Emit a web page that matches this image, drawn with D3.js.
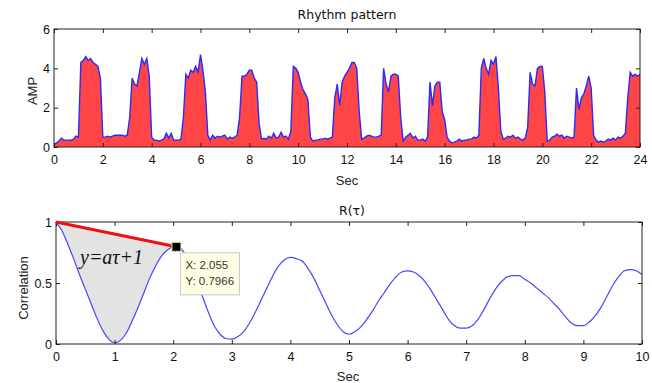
<!DOCTYPE html>
<html>
<head>
<meta charset="utf-8">
<script src="https://cdn.jsdelivr.net/npm/d3@7"></script>
<style>
  body { margin: 0; background: #fff; }
  svg { display: block; }
  .tick text { font-family: "Liberation Sans", Arial, sans-serif; font-size: 12.5px; fill: #111; }
  .tick line { stroke: #222; }
  .domain { display: none; }
</style>
</head>
<body>
<svg id="chart" width="652" height="383"></svg>
<script>
// rhythm pattern, one value every 0.1 s from 0 to 24 s
const ampStep = 0.1;
const ampValues = [
  0.15,0.2,0.3,0.45,0.35,0.35,0.35,0.35,0.4,0.55,
  0.5,4.3,4.4,4.6,4.4,4.5,4.3,4.2,4.1,3.5,
  0.5,0.5,0.55,0.5,0.55,0.6,0.6,0.6,0.6,0.55,
  0.6,1.5,3.5,3.2,3.1,3.8,4.5,4.2,4.5,3.6,
  0.5,0.35,0.35,0.3,0.35,0.4,0.7,0.45,0.7,0.35,
  0.35,0.35,0.4,1.5,3.7,3.5,3.9,3.8,4.1,3.8,
  4.7,3.9,2.8,0.6,0.35,0.6,0.45,0.55,0.5,0.55,
  0.6,0.4,0.5,0.45,0.5,0.6,1.5,3.6,3.6,3.7,
  3.9,3.9,3.5,3.3,1.2,0.4,0.45,0.4,0.55,0.45,
  0.7,0.45,0.5,0.75,0.5,0.55,0.4,0.8,4.1,4.0,
  3.8,3.3,2.9,2.7,2.4,0.5,0.3,0.35,0.35,0.4,
  0.4,0.45,0.4,0.45,0.5,2.5,3.2,2.1,3.3,3.6,
  3.8,4.0,4.3,4.3,4.0,1.8,0.4,0.45,0.55,0.6,
  0.55,0.5,0.5,0.55,0.6,4.0,3.2,2.8,3.6,3.7,
  3.7,3.6,1.5,0.3,0.5,0.6,0.7,0.45,0.55,0.35,
  0.35,0.4,0.3,0.5,3.3,2.1,3.1,3.3,3.3,1.8,
  1.4,0.5,0.3,0.2,0.25,0.3,0.4,0.3,0.35,0.35,
  0.4,0.4,0.5,0.45,0.6,4.0,4.5,4.0,3.7,4.4,
  4.2,4.6,3.0,0.8,0.4,0.45,0.55,0.5,0.6,0.45,
  0.5,0.4,0.35,0.45,1.0,3.8,3.2,3.1,4.0,4.1,
  4.1,2.8,0.3,0.35,0.5,0.55,0.65,0.55,0.6,0.45,
  0.55,0.5,0.45,0.5,3.0,1.9,2.5,2.7,3.1,3.6,
  3.0,0.6,0.35,0.25,0.3,0.25,0.3,0.4,0.35,0.45,
  0.35,0.5,0.45,0.55,0.7,2.5,3.8,3.6,3.7,3.6,
  3.7
];
const ampXTicks = [0,2,4,6,8,10,12,14,16,18,20,22,24];
const ampYTicks = [0,2,4,6];

// autocorrelation R(tau), one value every 0.1 s from 0 to 10 s
const corrStep = 0.1;
const corrValues = [
  1.0,0.93,0.82,0.7,0.57,0.45,0.33,0.21,0.11,0.04,
  0.01,0.03,0.09,0.19,0.3,0.42,0.54,0.64,0.72,0.77,
  0.795,0.79,0.74,0.64,0.52,0.39,0.26,0.15,0.08,0.045,
  0.04,0.06,0.1,0.17,0.26,0.36,0.46,0.56,0.64,0.69,
  0.71,0.70,0.68,0.62,0.54,0.44,0.34,0.24,0.16,0.1,
  0.08,0.1,0.14,0.2,0.27,0.35,0.42,0.49,0.55,0.59,
  0.6,0.59,0.56,0.51,0.44,0.36,0.28,0.2,0.15,0.13,
  0.13,0.15,0.2,0.28,0.37,0.45,0.51,0.55,0.56,0.56,
  0.53,0.5,0.46,0.42,0.38,0.33,0.28,0.22,0.17,0.15,
  0.15,0.18,0.23,0.3,0.39,0.48,0.55,0.6,0.61,0.6,
  0.57
];
const corrXTicks = [0,1,2,3,4,5,6,7,8,9,10];
const corrYTicks = [0,0.5,1];
const tipX = 2.055;
const tipY = 0.7966;

const svg = d3.select("#chart");
const labelFont = '"Liberation Sans", Arial, sans-serif';
const titleFont = '"DejaVu Sans", Verdana, sans-serif';

function frame(g, x, y, xTicks, yTicks, fmtY) {
  const [x0, x1] = x.range();
  const [y0, y1] = y.range();
  g.append("g").attr("transform", `translate(0,${y0})`)
    .call(d3.axisBottom(x).tickValues(xTicks).tickSize(-4).tickPadding(8).tickFormat(d3.format("d")));
  g.append("g").attr("transform", `translate(0,${y1})`)
    .call(d3.axisTop(x).tickValues(xTicks).tickSize(-4).tickFormat(""));
  g.append("g").attr("transform", `translate(${x0},0)`)
    .call(d3.axisLeft(y).tickValues(yTicks).tickSize(-4).tickPadding(4).tickFormat(fmtY));
  g.append("g").attr("transform", `translate(${x1},0)`)
    .call(d3.axisRight(y).tickValues(yTicks).tickSize(-4).tickFormat(""));
  g.append("rect")
    .attr("x", x0).attr("y", y1)
    .attr("width", x1 - x0).attr("height", y0 - y1)
    .attr("fill", "none").attr("stroke", "#222").attr("stroke-width", 1);
}

// ---- top: rhythm pattern ----
const xA = d3.scaleLinear().domain([0, 24]).range([54, 640]);
const yA = d3.scaleLinear().domain([0, 6]).range([147, 29]);
const topG = svg.append("g");

topG.append("path")
  .datum(ampValues)
  .attr("fill", "#ff4545")
  .attr("d", d3.area().x((d, i) => xA(i * ampStep)).y0(yA(0)).y1(d => yA(d)));
topG.append("path")
  .datum(ampValues)
  .attr("fill", "none")
  .attr("stroke", "#2a2aff")
  .attr("stroke-width", 1.4)
  .attr("d", d3.line().x((d, i) => xA(i * ampStep)).y(d => yA(d)));

frame(topG, xA, yA, ampXTicks, ampYTicks, d3.format("d"));

topG.append("text").attr("x", 347).attr("y", 19).attr("text-anchor", "middle")
  .style("font-family", titleFont).style("font-size", "12.5px").attr("fill", "#111")
  .text("Rhythm pattern");
topG.append("text").attr("x", 347).attr("y", 185).attr("text-anchor", "middle")
  .style("font-family", labelFont).style("font-size", "13px").attr("fill", "#222")
  .text("Sec");
topG.append("text").attr("transform", "translate(37,91) rotate(-90)").attr("text-anchor", "middle")
  .style("font-family", labelFont).style("font-size", "13px").attr("fill", "#222")
  .text("AMP");

// ---- bottom: correlation ----
const xC = d3.scaleLinear().domain([0, 10]).range([56, 642]);
const yC = d3.scaleLinear().domain([0, 1]).range([344, 222]);
const botG = svg.append("g");

const slope = (tipY - 1) / tipX;
const shade = corrValues
  .map((v, i) => ({ t: i * corrStep, v }))
  .filter(d => d.t < tipX)
  .concat([{ t: tipX, v: tipY }]);

botG.append("path")
  .datum(shade)
  .attr("fill", "#e3e3e3")
  .attr("d", d3.area().x(d => xC(d.t)).y0(d => yC(d.v)).y1(d => yC(slope * d.t + 1)));

botG.append("path")
  .datum(corrValues)
  .attr("fill", "none")
  .attr("stroke", "#4646ff")
  .attr("stroke-width", 1.2)
  .attr("d", d3.line().curve(d3.curveMonotoneX).x((d, i) => xC(i * corrStep)).y(d => yC(d)));

frame(botG, xC, yC, corrXTicks, corrYTicks, d => d === 0.5 ? "0.5" : d3.format("d")(d));

botG.append("line")
  .attr("x1", xC(0)).attr("y1", yC(1))
  .attr("x2", xC(tipX)).attr("y2", yC(tipY))
  .attr("stroke", "#ee1111").attr("stroke-width", 3);

botG.append("rect")
  .attr("x", xC(tipX) - 4.5).attr("y", yC(tipY) - 4.5)
  .attr("width", 9).attr("height", 9)
  .attr("fill", "#000").attr("stroke", "#e8e0a0").attr("stroke-width", 1);

// data tip
const tipG = botG.append("g").attr("transform", `translate(${xC(tipX) + 4},${yC(tipY) + 6})`);
tipG.append("rect").attr("width", 59).attr("height", 42)
  .attr("fill", "#ffffe6").attr("stroke", "#c8c8c8");
tipG.append("text").attr("x", 5).attr("y", 16)
  .style("font-family", labelFont).style("font-size", "11.5px").attr("fill", "#333")
  .text("X: " + tipX);
tipG.append("text").attr("x", 5).attr("y", 32)
  .style("font-family", labelFont).style("font-size", "11.5px").attr("fill", "#333")
  .text("Y: " + tipY);

botG.append("text").attr("x", 80).attr("y", 264)
  .style("font-family", '"Liberation Serif", "Times New Roman", serif')
  .style("font-style", "italic").style("font-size", "20px").attr("fill", "#111")
  .text("y=aτ+1");

botG.append("text").attr("x", 352).attr("y", 215).attr("text-anchor", "middle")
  .style("font-family", titleFont).style("font-size", "12.5px").attr("fill", "#111")
  .text("R(τ)");
botG.append("text").attr("x", 348).attr("y", 381).attr("text-anchor", "middle")
  .style("font-family", labelFont).style("font-size", "13px").attr("fill", "#222")
  .text("Sec");
botG.append("text").attr("transform", "translate(28,288) rotate(-90)").attr("text-anchor", "middle")
  .style("font-family", labelFont).style("font-size", "13px").attr("fill", "#222")
  .text("Correlation");
</script>
</body>
</html>
